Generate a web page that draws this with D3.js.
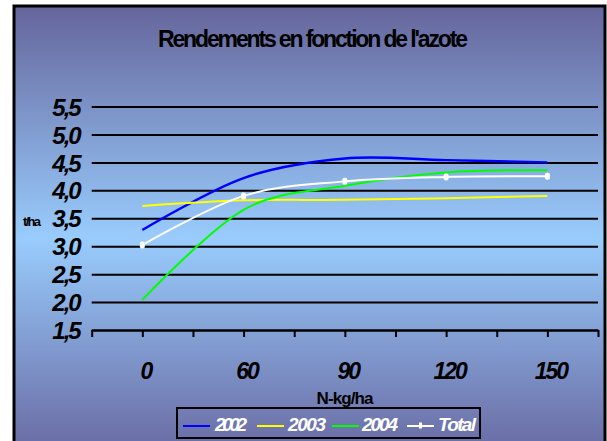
<!DOCTYPE html>
<html>
<head>
<meta charset="utf-8">
<script src="https://cdn.jsdelivr.net/npm/d3@7"></script>
<style>
  html, body { margin: 0; padding: 0; background: #ffffff; }
  svg { display: block; font-family: "Liberation Sans", Arial, sans-serif; }
</style>
</head>
<body>
<svg id="chart" width="607" height="441"></svg>
<script>
// Nitrogen rates (kg N/ha)
const categories = ["0", "60", "90", "120", "150"];
// Yields in t/ha per year
const y2002 = [3.29, 4.22, 4.57, 4.54, 4.50];
const y2003 = [3.72, 3.82, 3.83, 3.86, 3.90];
const y2004 = [2.04, 3.65, 4.08, 4.32, 4.36];
const total = [3.02, 3.90, 4.16, 4.24, 4.25];
const yTicks = [1.5, 2.0, 2.5, 3.0, 3.5, 4.0, 4.5, 5.0, 5.5];

const series = [
  { name: "2002", values: y2002, color: "#0000ff", width: 2.4 },
  { name: "2003", values: y2003, color: "#ffff00", width: 2 },
  { name: "2004", values: y2004, color: "#00ff00", width: 2 },
  { name: "Total", values: total, color: "#ffffff", width: 2, marker: true }
];

const svg = d3.select("#chart");

// Background gradient (dark slate at the edges, light blue in the middle)
const defs = svg.append("defs");
const grad = defs.append("linearGradient")
  .attr("id", "bg").attr("x1", 0).attr("y1", 0).attr("x2", 0).attr("y2", 1);
grad.append("stop").attr("offset", "0%").attr("stop-color", "#65659b");
grad.append("stop").attr("offset", "50%").attr("stop-color", "#99ccfd");
grad.append("stop").attr("offset", "100%").attr("stop-color", "#65629b");

svg.append("rect")
  .attr("x", 14).attr("y", 6).attr("width", 591).attr("height", 464)
  .attr("fill", "url(#bg)")
  .attr("stroke", "#000").attr("stroke-width", 3);

// Scales
const x = d3.scaleLinear().domain([-0.5, categories.length - 0.5]).range([91.7, 598]);
const y = d3.scaleLinear().domain([1.5, 5.5]).range([330, 106.5]);

// Title
svg.append("text")
  .attr("x", 313).attr("y", 47)
  .attr("text-anchor", "middle")
  .attr("font-size", 23).attr("font-weight", "bold")
  .attr("textLength", 310).attr("lengthAdjust", "spacing")
  .attr("fill", "#000")
  .text("Rendements en fonction de l'azote");

// Y axis with gridlines
const fmt = d3.format(".1f");
const yAxis = svg.append("g")
  .attr("transform", `translate(${x.range()[0]},0)`)
  .call(d3.axisLeft(y)
    .tickValues(yTicks)
    .tickSizeInner(-(x.range()[1] - x.range()[0]))
    .tickSizeOuter(0)
    .tickPadding(12)
    .tickFormat(d => fmt(d).replace(".", ",")));
yAxis.select(".domain").remove();
yAxis.selectAll(".tick line").attr("stroke", "#000").attr("stroke-width", 2);
yAxis.selectAll(".tick text")
  .attr("fill", "#000")
  .attr("font-family", "'Liberation Sans', Arial, sans-serif")
  .attr("font-size", 24).attr("font-weight", "bold").attr("font-style", "italic")
  .attr("letter-spacing", -2)
  .attr("dy", "0.36em");

// X axis
const xTickVals = d3.range(-0.5, categories.length - 0.5 + 0.01, 0.5);
const xAxis = svg.append("g")
  .attr("transform", `translate(0,${y(1.5)})`)
  .call(d3.axisBottom(x)
    .tickValues(xTickVals)
    .tickSizeInner(7)
    .tickSizeOuter(0)
    .tickPadding(26)
    .tickFormat(d => Number.isInteger(d) ? categories[d] : ""));
xAxis.select(".domain").attr("stroke", "#000").attr("stroke-width", 2);
xAxis.selectAll(".tick line").attr("stroke", "#000").attr("stroke-width", 2);
xAxis.selectAll(".tick text")
  .attr("fill", "#000")
  .attr("font-family", "'Liberation Sans', Arial, sans-serif")
  .attr("font-size", 23).attr("font-weight", "bold").attr("font-style", "italic")
  .attr("letter-spacing", -2)
  .attr("dx", 3);

// Axis titles
svg.append("text")
  .attr("x", 345).attr("y", 404)
  .attr("text-anchor", "middle")
  .attr("font-size", 17).attr("font-weight", "bold")
  .attr("textLength", 57).attr("lengthAdjust", "spacing")
  .attr("fill", "#000")
  .text("N-kg/ha");

svg.append("text")
  .attr("x", 23).attr("y", 226)
  .attr("font-size", 13).attr("font-weight", "bold")
  .attr("textLength", 18).attr("lengthAdjust", "spacing")
  .attr("fill", "#000")
  .text("t/ha");

// Lines
const line = d3.line()
  .x((d, i) => x(i))
  .y(d => y(d))
  .curve(d3.curveCardinal.tension(0));

const plot = svg.append("g");
series.forEach(s => {
  plot.append("path")
    .datum(s.values)
    .attr("fill", "none")
    .attr("stroke", s.color)
    .attr("stroke-width", s.width)
    .attr("stroke-linejoin", "round")
    .attr("d", line);
  if (s.marker) {
    plot.selectAll(null)
      .data(s.values)
      .join("rect")
      .attr("x", (d, i) => x(i) - 2.5)
      .attr("y", d => y(d) - 3.5)
      .attr("width", 5).attr("height", 7)
      .attr("rx", 2)
      .attr("fill", s.color);
  }
});

// Legend
const legend = svg.append("g");
legend.append("rect")
  .attr("x", 177).attr("y", 408).attr("width", 303).attr("height", 30)
  .attr("fill", "none").attr("stroke", "#000").attr("stroke-width", 2);

const legendPos = [
  { lx: 183, tx: 215, tw: 32 },
  { lx: 257, tx: 288, tw: 38 },
  { lx: 332, tx: 362, tw: 36 },
  { lx: 407, tx: 438, tw: 38 }
];
series.forEach((s, i) => {
  const p = legendPos[i];
  legend.append("line")
    .attr("x1", p.lx).attr("x2", p.lx + 27)
    .attr("y1", 426).attr("y2", 426)
    .attr("stroke", s.color).attr("stroke-width", 2);
  if (s.marker) {
    legend.append("rect")
      .attr("x", p.lx + 12).attr("y", 422.5)
      .attr("width", 3).attr("height", 6)
      .attr("fill", s.color);
  }
  legend.append("text")
    .attr("x", p.tx).attr("y", 431)
    .attr("font-size", 19).attr("font-weight", "bold").attr("font-style", "italic")
    .attr("textLength", p.tw).attr("lengthAdjust", "spacing")
    .attr("fill", "#fff")
    .text(s.name);
});
</script>
</body>
</html>
